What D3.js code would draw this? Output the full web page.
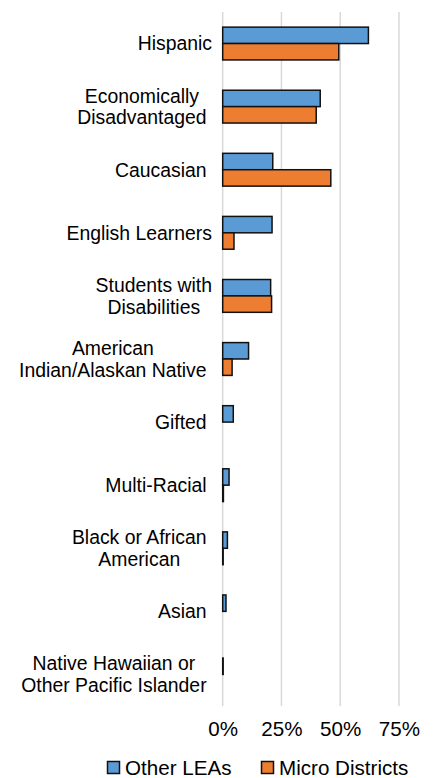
<!DOCTYPE html>
<html>
<head>
<meta charset="utf-8">
<script src="https://cdn.jsdelivr.net/npm/d3@7"></script>
<style>
  html, body { margin: 0; padding: 0; background: #fff; }
  svg { display: block; font-family: "Liberation Sans", Arial, sans-serif; }
</style>
</head>
<body>
<svg id="chart" width="435" height="778"></svg>
<script>
// ---- data ----
const categories = [
  "Hispanic",
  "Economically\nDisadvantaged ",
  "Caucasian ",
  "English Learners",
  "Students with\nDisabilities",
  "American\nIndian/Alaskan Native ",
  "Gifted ",
  "Multi-Racial ",
  "Black or African\nAmerican ",
  "Asian ",
  "Native Hawaiian or\nOther Pacific Islander "
];
const otherLEAs      = [0.62, 0.415, 0.213, 0.21, 0.204, 0.11, 0.045, 0.027, 0.02, 0.014, 0.002];
const microDistricts = [0.494, 0.398, 0.46, 0.048, 0.208, 0.04, 0, 0.003, 0.002, 0, 0];
const seriesNames = ["Other LEAs", "Micro Districts"];
const tickValues = [0, 0.25, 0.5, 0.75];

// ---- layout ----
const svg = d3.select("#chart");
const colors = ["#5B9BD5", "#ED7D31"];
const plotTop = 12, plotBottom = 706;
const x = d3.scaleLinear().domain([0, 0.8]).range([222.7, 222.7 + 0.8 * 235]);
const y = d3.scaleBand().domain(categories).range([plotTop, plotBottom])
  .paddingInner(0.48).paddingOuter(0.24);
const bw = y.bandwidth() / 2;

// gridlines
svg.append("g").selectAll("line").data(tickValues).join("line")
  .attr("x1", d => x(d)).attr("x2", d => x(d))
  .attr("y1", plotTop).attr("y2", plotBottom)
  .attr("stroke", "#d9d9d9").attr("stroke-width", 1.5);

// bars
const series = [otherLEAs, microDistricts];
series.forEach((vals, si) => {
  svg.append("g").selectAll("rect").data(vals).join("rect")
    .attr("x", x(0))
    .attr("y", (d, i) => y(categories[i]) + si * bw)
    .attr("width", d => x(d) - x(0))
    .attr("height", bw)
    .attr("fill", colors[si])
    .attr("stroke", "#111")
    .attr("stroke-width", 1.5);
});

// category labels
const labelFont = 19.4, lineH = 21.6, labelRight = 212;
const lg = svg.append("g").attr("font-size", labelFont).attr("fill", "#000");
const measure = svg.append("text").attr("font-size", labelFont).style("white-space", "pre");
function w(s) { measure.text(s); return measure.node().getComputedTextLength(); }
const spaceW = w("a a") - w("aa");
categories.forEach(c => {
  const trailing = c.endsWith(" ");
  const lines = c.trim().split("\n");
  const maxW = d3.max(lines, l => w(l));
  const right = labelRight - (trailing ? spaceW : 0);
  const cx = right - maxW / 2;
  const cy = y(c) + y.bandwidth() / 2;
  const first = cy + 6.8 - (lines.length - 1) * lineH / 2;
  lines.forEach((l, k) => {
    lg.append("text").attr("x", cx).attr("y", first + k * lineH)
      .attr("text-anchor", "middle").text(l);
  });
});
measure.remove();

// x axis tick labels
const axis = d3.axisBottom(x).tickValues(tickValues).tickFormat(d3.format(".0%")).tickSize(0).tickPadding(0);
const ag = svg.append("g").attr("transform", `translate(0,${plotBottom})`).call(axis);
ag.select(".domain").remove();
ag.selectAll("text").attr("font-size", 20.6).attr("font-family", "'Liberation Sans', Arial, sans-serif")
  .attr("fill", "#000").attr("dy", null).attr("y", 30);

// legend
const legendX = [107.5, 261.5];
const legend = svg.append("g");
seriesNames.forEach((n, i) => {
  legend.append("rect").attr("x", legendX[i]).attr("y", 761.5).attr("width", 12).attr("height", 12)
    .attr("fill", colors[i]).attr("stroke", "#111").attr("stroke-width", 1.5);
  legend.append("text").attr("x", legendX[i] + 17.5).attr("y", 774.5)
    .attr("font-size", 20.6).attr("fill", "#000").text(n);
});
</script>
</body>
</html>
